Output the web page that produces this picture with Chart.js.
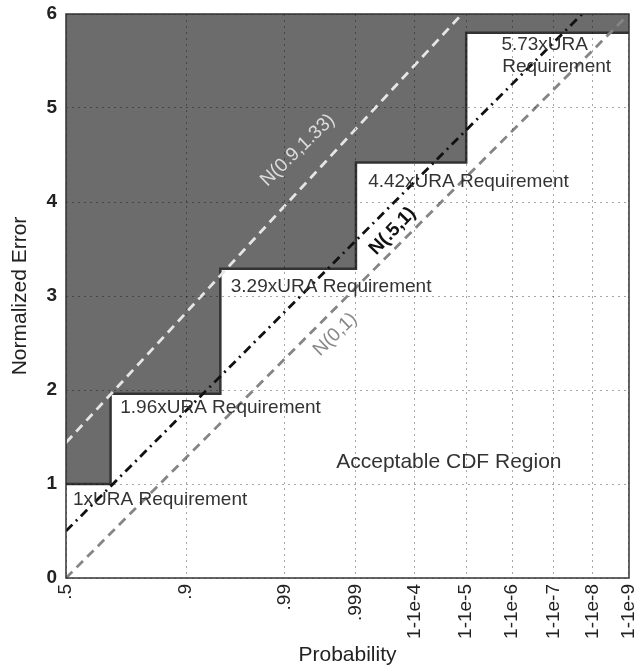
<!DOCTYPE html>
<html>
<head>
<meta charset="utf-8">
<script src="https://cdn.jsdelivr.net/npm/chart.js@4/dist/chart.umd.min.js"></script>
<style>
  html, body { margin: 0; padding: 0; background: #fff; }
  #wrap { width: 637px; height: 670px; position: relative; }
</style>
</head>
<body>
<div id="wrap"><canvas id="graficoCdf"></canvas></div>
<script>
// eje x: probabilidad en escala normal (posicion = cuantil normal)
const probLabels = ['.5', '.9', '.99', '.999', '1-1e-4', '1-1e-5', '1-1e-6', '1-1e-7', '1-1e-8', '1-1e-9'];
const probQuantiles = [0, 1.2816, 2.3263, 3.0902, 3.7190, 4.2649, 4.7534, 5.1993, 5.6120, 5.9978];

// escalones de requisito URA
const stepX = [0, 0.475, 1.645, 3.09, 4.265, 6];
const stepY = [1, 1.96, 3.29, 4.42, 5.8, 5.8];

// rectas de distribuciones
const n01X = [0, 6];
const n01Y = [0, 6];
const n051X = [0, 5.5];
const n051Y = [0.5, 6];
const n09X = [0, 4.22];
const n09Y = [1.44, 6];

const yTicks = [0, 1, 2, 3, 4, 5, 6];

const toPts = (xs, ys) => xs.map((x, i) => ({ x: x, y: ys[i] }));

// textos dentro del grafico (coordenadas en unidades de datos)
const textos = [
    { t: '1xURA Requirement', x: 0.075, y: 0.83, size: 19, color: '#333' },
    { t: '1.96xURA Requirement', x: 0.578, y: 1.81, size: 19, color: '#333' },
    { t: '3.29xURA Requirement', x: 1.756, y: 3.10, size: 19, color: '#333' },
    { t: '4.42xURA Requirement', x: 3.22, y: 4.22, size: 19, color: '#333' },
    { t: '5.73xURA', x: 4.64, y: 5.67, size: 19, color: '#333' },
    { t: 'Requirement', x: 4.65, y: 5.44, size: 19, color: '#333' },
    { t: 'Acceptable CDF Region', x: 2.88, y: 1.23, size: 21, color: '#333' },
    { t: 'N(0.9,1.33)', x: 2.47, y: 4.55, size: 19, color: '#dcdcdc', rot: -44, center: true },
    { t: 'N(.5,1)', x: 3.48, y: 3.69, size: 19, color: '#111', rot: -46, center: true, bold: true },
    { t: 'N(0,1)', x: 2.87, y: 2.59, size: 19, color: '#888', rot: -44, center: true }
];

const pluginTextos = {
    id: 'textos',
    afterDraw(chart) {
        const ctx = chart.ctx;
        const xs = chart.scales.x, ys = chart.scales.y;
        const a = chart.chartArea;
        ctx.save();
        // marco de la caja
        ctx.strokeStyle = '#333';
        ctx.lineWidth = 1.5;
        ctx.setLineDash([]);
        ctx.strokeRect(a.left, a.top, a.right - a.left, a.bottom - a.top);
        textos.forEach(o => {
            const px = xs.getPixelForValue(o.x);
            const py = ys.getPixelForValue(o.y);
            ctx.font = (o.bold ? 'bold ' : '') + o.size + 'px "Liberation Sans", Arial, sans-serif';
            ctx.fillStyle = o.color;
            ctx.textBaseline = 'middle';
            ctx.save();
            ctx.translate(px, py);
            if (o.rot) ctx.rotate(o.rot * Math.PI / 180);
            ctx.textAlign = o.center ? 'center' : 'left';
            ctx.fillText(o.t, 0, 0);
            ctx.restore();
        });
        ctx.restore();
    }
};

const fuente = '"Liberation Sans", Arial, sans-serif';

const rejilla = {
    z: 1,
    color: 'rgba(0,0,0,0.35)',
    lineWidth: 1,
    drawTicks: false
};

new Chart(document.getElementById('graficoCdf').getContext('2d'), {
    type: 'line',
    data: {
        datasets: [
            {
                label: 'N(0.9,1.33)',
                data: toPts(n09X, n09Y),
                borderColor: '#e6e6e6',
                borderWidth: 2.8,
                borderDash: [9, 6],
                pointRadius: 0,
                fill: false
            },
            {
                label: 'N(.5,1)',
                data: toPts(n051X, n051Y),
                borderColor: '#111',
                borderWidth: 2.8,
                borderDash: [9, 5, 2, 5],
                pointRadius: 0,
                fill: false
            },
            {
                label: 'N(0,1)',
                data: toPts(n01X, n01Y),
                borderColor: '#858585',
                borderWidth: 2.8,
                borderDash: [9, 6],
                pointRadius: 0,
                fill: false
            },
            {
                label: 'Requirement',
                data: toPts(stepX, stepY),
                stepped: true,
                borderColor: '#333',
                borderWidth: 2.5,
                backgroundColor: '#6c6c6c',
                pointRadius: 0,
                fill: 'end'
            }
        ]
    },
    plugins: [pluginTextos],
    options: {
        responsive: true,
        maintainAspectRatio: false,
        animation: false,
        layout: { padding: { top: 14, right: 8, left: 0, bottom: 0 } },
        plugins: {
            legend: { display: false },
            tooltip: { enabled: false }
        },
        scales: {
            x: {
                type: 'linear',
                min: 0,
                max: 6,
                afterBuildTicks: (scale) => {
                    scale.ticks = probQuantiles.map(v => ({ value: v }));
                },
                afterFit: (scale) => {
                    scale.height = 92;
                    scale.paddingLeft = 0;
                    scale.paddingRight = 0;
                },
                ticks: {
                    autoSkip: false,
                    minRotation: 90,
                    maxRotation: 90,
                    padding: 6,
                    color: '#222',
                    font: { family: fuente, size: 19 },
                    callback: (value, index) => probLabels[index]
                },
                grid: rejilla,
                border: { display: false, dash: [2, 4] },
                title: {
                    display: true,
                    text: 'Probability',
                    color: '#222',
                    font: { family: fuente, size: 21 },
                    padding: { top: 0, bottom: 2 }
                }
            },
            y: {
                min: 0,
                max: 6,
                afterBuildTicks: (scale) => {
                    scale.ticks = yTicks.map(v => ({ value: v }));
                },
                afterFit: (scale) => {
                    scale.width = 66;
                    scale.paddingTop = 0;
                    scale.paddingBottom = 0;
                },
                ticks: {
                    padding: 9,
                    color: '#222',
                    font: { family: fuente, size: 19, weight: 'bold' }
                },
                grid: rejilla,
                border: { display: false, dash: [2, 4] },
                title: {
                    display: true,
                    text: 'Normalized Error',
                    color: '#222',
                    font: { family: fuente, size: 21 },
                    padding: { top: 8, bottom: 4 }
                }
            }
        }
    }
});
</script>
</body>
</html>
